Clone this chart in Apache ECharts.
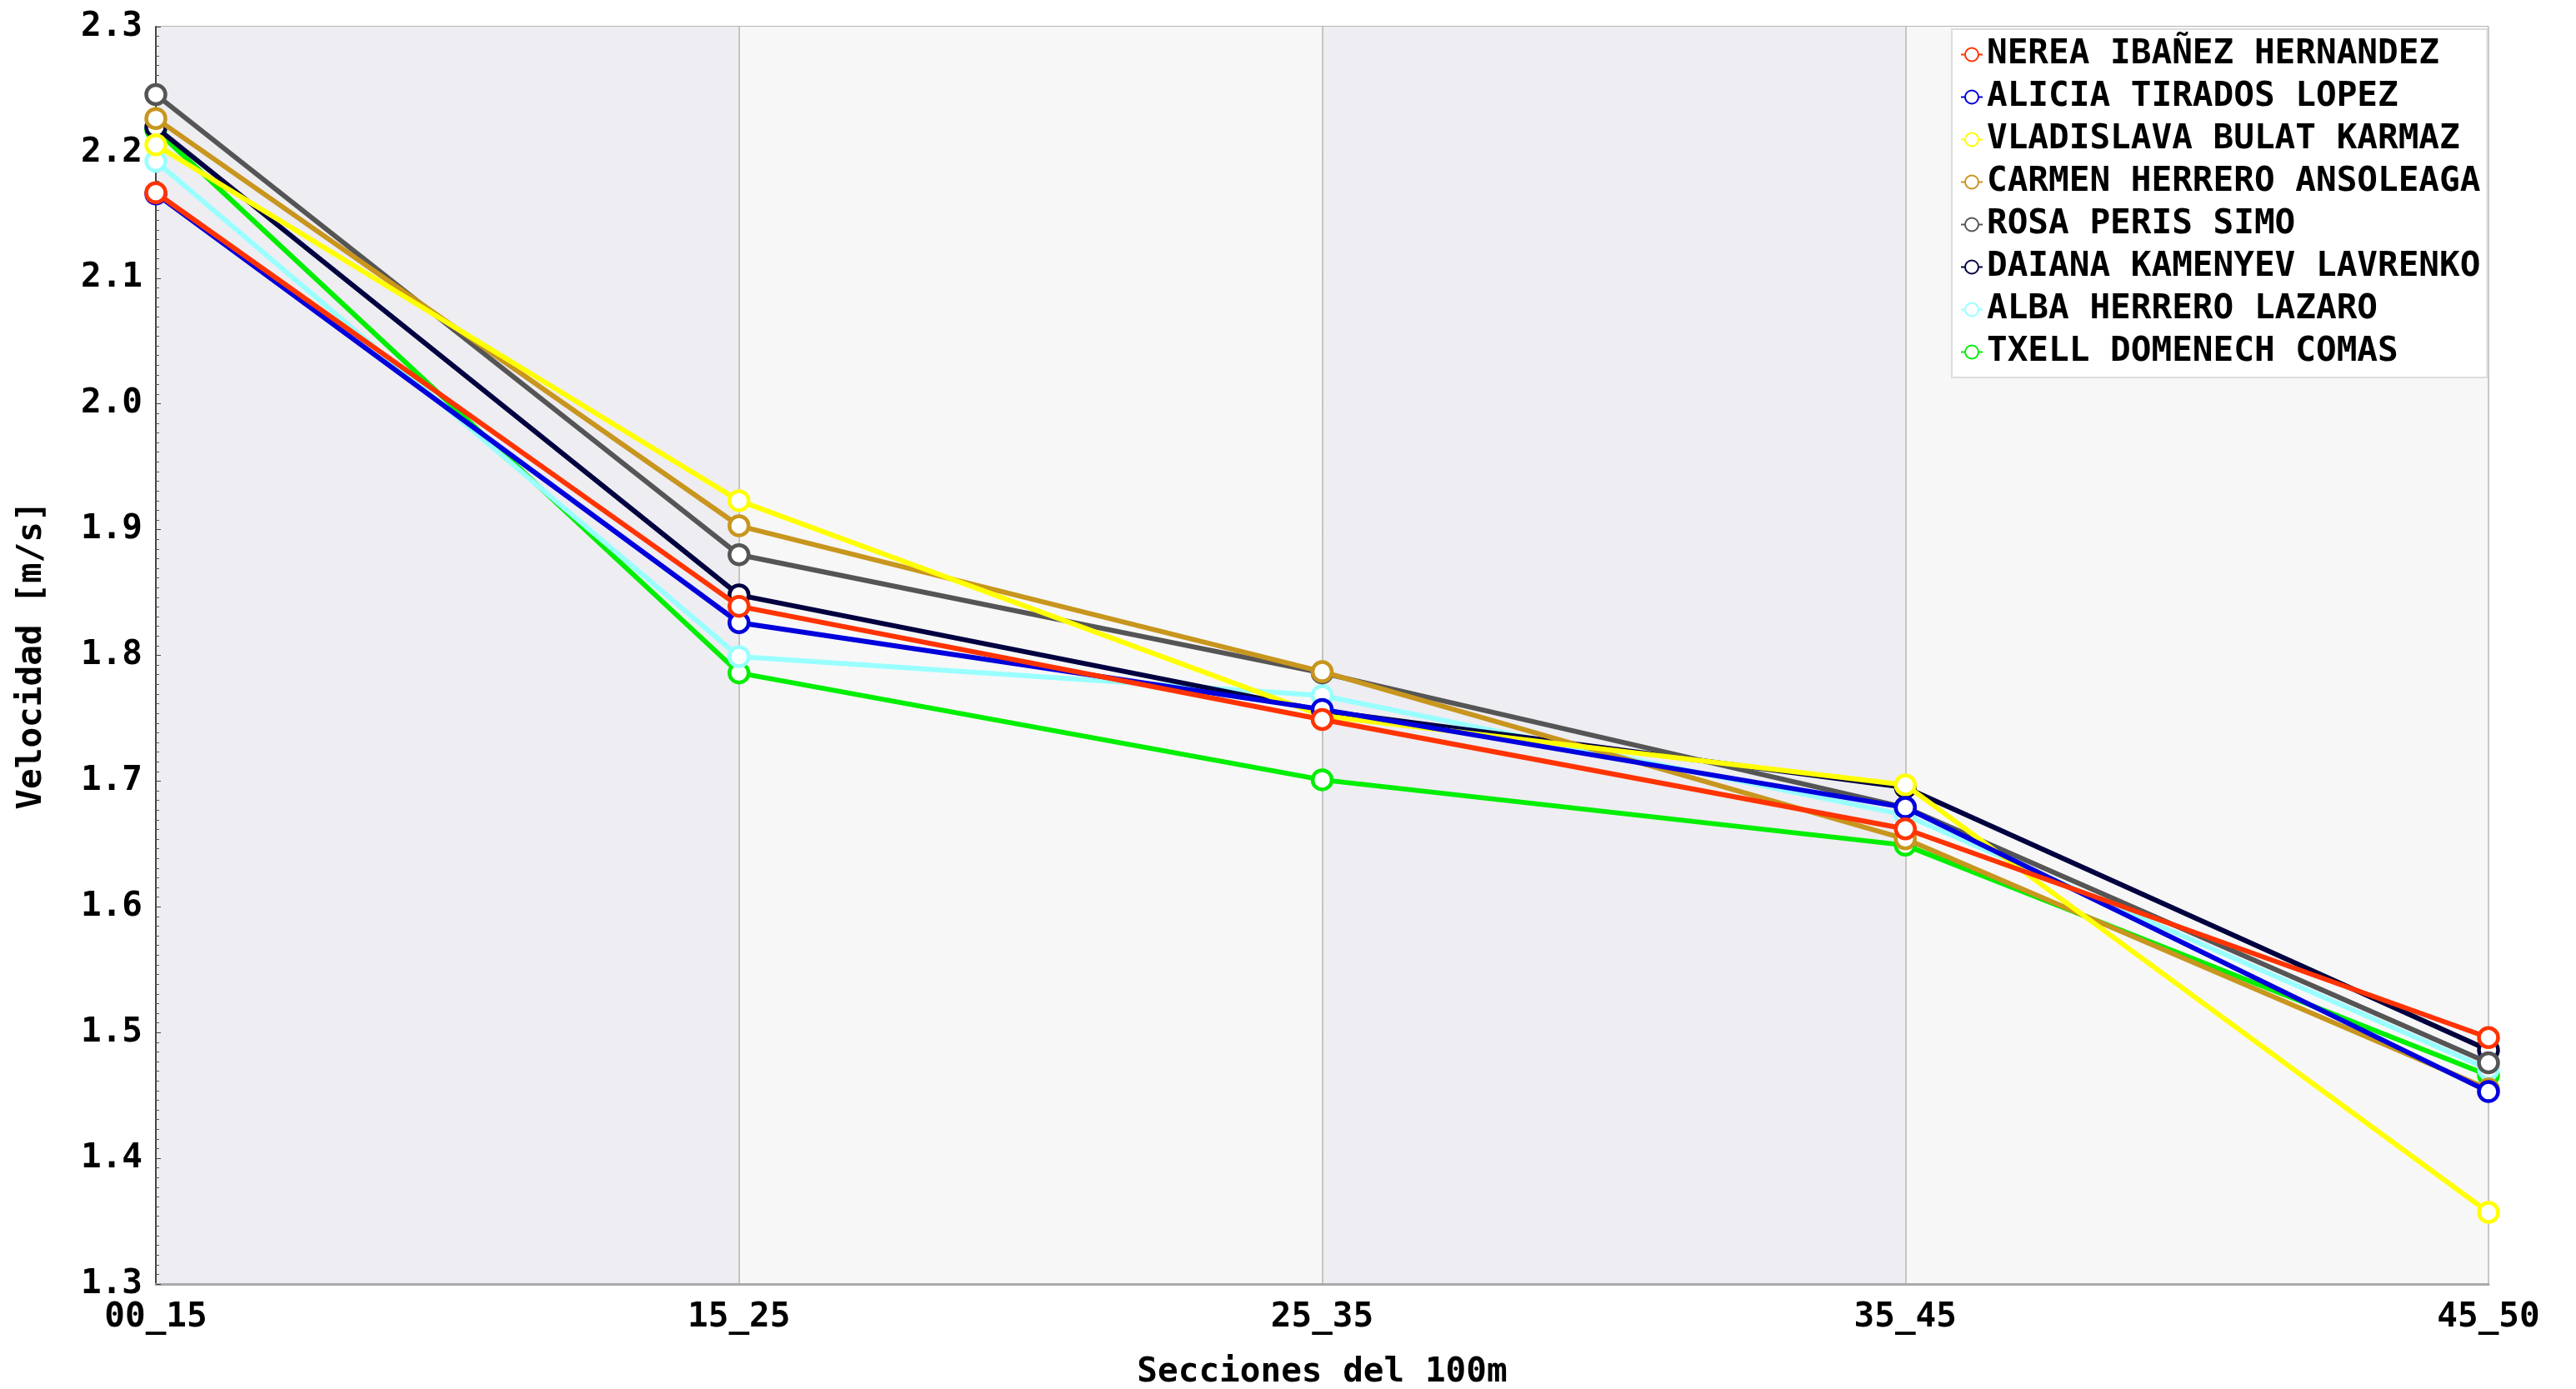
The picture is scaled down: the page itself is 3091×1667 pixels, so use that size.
<!DOCTYPE html>
<html><head><meta charset="utf-8">
<script src="https://cdn.jsdelivr.net/npm/echarts@6/dist/echarts.min.js"></script>
<style>html,body{margin:0;padding:0;background:#fff}#c{width:3091px;height:1667px}</style>
</head><body><div id="c"></div>
<script>
const categories = ['00_15','15_25','25_35','35_45','45_50'];
const names = ['NEREA IBAÑEZ HERNANDEZ','ALICIA TIRADOS LOPEZ','VLADISLAVA BULAT KARMAZ','CARMEN HERRERO ANSOLEAGA','ROSA PERIS SIMO','DAIANA KAMENYEV LAVRENKO','ALBA HERRERO LAZARO','TXELL DOMENECH COMAS'];
const colors = ['#ff3300','#0000dd','#ffff00','#c8961e','#555555','#000040','#99ffff','#00ee00'];
const nerea = [2.168, 1.839, 1.749, 1.662, 1.496];
const alicia = [2.167, 1.826, 1.757, 1.679, 1.453];
const vladislava = [2.206, 1.923, 1.752, 1.697, 1.357];
const carmen = [2.227, 1.903, 1.787, 1.654, 1.455];
const rosa = [2.246, 1.880, 1.786, 1.679, 1.476];
const daiana = [2.220, 1.848, 1.756, 1.695, 1.486];
const alba = [2.193, 1.799, 1.768, 1.673, 1.471];
const txell = [2.218, 1.786, 1.701, 1.649, 1.466];
const yTicks = {min: 1.3, max: 2.3, interval: 0.1};
const values = [nerea, alicia, vladislava, carmen, rosa, daiana, alba, txell];

const font = '"DejaVu Sans Mono", monospace';
const chart = echarts.init(document.getElementById('c'));
const series = names.map((n, i) => ({
  name: n, type: 'line', data: values[i], z: 20 - i,
  symbol: 'circle', symbolSize: 23,
  lineStyle: {color: colors[i], width: 6},
  itemStyle: {color: '#ffffff', borderColor: colors[i], borderWidth: 4.5},
  emphasis: {disabled: true}
}));
chart.setOption({
  animation: false,
  backgroundColor: '#ffffff',
  grid: {left: 187, right: 105, top: 32, bottom: 126, outerBoundsMode: 'none', containLabel: false},
  legend: {
    data: names, orient: 'vertical', left: 2342, top: 35,
    backgroundColor: '#ffffff', borderColor: '#dddddd', borderWidth: 2,
    padding: [10, 8, 10, 10], itemGap: 10, itemWidth: 26, itemHeight: 20,
    textStyle: {fontFamily: font, fontWeight: 'bold', fontSize: 41, color: '#000'}
  },
  xAxis: {
    type: 'category', data: categories, boundaryGap: false,
    name: 'Secciones del 100m', nameLocation: 'middle', nameGap: 86,
    nameTextStyle: {fontFamily: font, fontWeight: 'bold', fontSize: 41, color: '#000'},
    axisLine: {lineStyle: {color: '#aaaaaa', width: 3}},
    axisTick: {show: false},
    axisLabel: {fontFamily: font, fontWeight: 'bold', fontSize: 41, color: '#000', margin: 20},
    splitLine: {show: true, lineStyle: {color: '#b4b4b4', width: 1.5}},
    splitArea: {show: true, areaStyle: {color: ['#eeedf2', '#f7f7f7']}}
  },
  yAxis: {
    type: 'value', min: yTicks.min, max: yTicks.max, interval: yTicks.interval,
    name: 'Velocidad [m/s]', nameLocation: 'middle', nameGap: 128,
    nameTextStyle: {fontFamily: font, fontWeight: 'bold', fontSize: 41, color: '#000'},
    axisLine: {show: true, lineStyle: {color: '#444444', width: 2}},
    axisTick: {show: true, inside: true, length: 6, lineStyle: {color: '#444'}},
    minorTick: {show: true, splitNumber: 13, length: 4, lineStyle: {color: '#555'}},
    axisLabel: {fontFamily: font, fontWeight: 'bold', fontSize: 41, color: '#000', margin: 16,
      formatter: v => v.toFixed(1)},
    splitLine: {show: true, lineStyle: {color: '#b4b4b4', width: 2}},
    minorSplitLine: {show: true, lineStyle: {color: '#dedee3', width: 1.5}}
  },
  series: series
});
</script></body></html>
